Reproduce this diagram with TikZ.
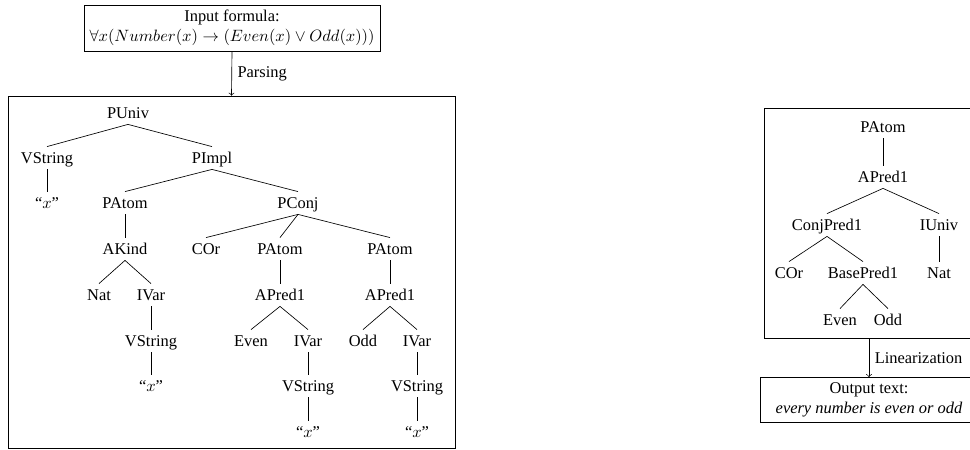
\documentclass[tikz,border=0pt]{standalone}
\usepackage[no-math]{fontspec}
\setmainfont{Liberation Serif}
\usetikzlibrary{fit}

\tikzset{
  tn/.style={text height=1.6ex, text depth=.25ex, inner sep=2.5pt},
  treebox/.style={draw, inner sep=0pt},
}

\begin{document}
\begin{tikzpicture}[x=0.609pt, y=-0.609pt]
\useasboundingbox (0,0) rectangle (970,450);
\clip (0,0) rectangle (970,450);

% Input formula
\node[draw, align=center] (input) at (232,28)
  {Input formula:\\ $\forall x(Number(x) \rightarrow (Even(x) \lor Odd(x)))$};

% Abstract syntax tree of the formula
\node[treebox, fit={(8,96) (455,448)}] (treeL) {};
\draw[->] (input.south) -- (treeL.north) node[midway, right] {Parsing};

\node[tn] (puniv) at (128,113) {PUniv};
\node[tn] (vs0) at (47,158) {VString};
\node[tn] (x0) at (47,203) {``$x$''};
\node[tn] (pimpl) at (212,158) {PImpl};
\node[tn] (patom1) at (125,203) {PAtom};
\node[tn] (akind) at (125,249) {AKind};
\node[tn] (nat) at (99,295) {Nat};
\node[tn] (ivar1) at (151,295) {IVar};
\node[tn] (vs1) at (151,341) {VString};
\node[tn] (x1) at (151,386) {``$x$''};
\node[tn] (pconj) at (298,203) {PConj};
\node[tn] (cor) at (206,249) {COr};
\node[tn] (patom2) at (280,249) {PAtom};
\node[tn] (apred2) at (280,295) {APred1};
\node[tn] (even) at (251,341) {Even};
\node[tn] (ivar2) at (308,341) {IVar};
\node[tn] (vs2) at (308,386) {VString};
\node[tn] (x2) at (308,432) {``$x$''};
\node[tn] (patom3) at (390,249) {PAtom};
\node[tn] (apred3) at (390,295) {APred1};
\node[tn] (odd) at (363,341) {Odd};
\node[tn] (ivar3) at (417,341) {IVar};
\node[tn] (vs3) at (417,386) {VString};
\node[tn] (x3) at (417,432) {``$x$''};

\draw (puniv.south) -- (vs0.north);
\draw (puniv.south) -- (pimpl.north);
\draw (vs0.south) -- (x0.north);
\draw (pimpl.south) -- (patom1.north);
\draw (pimpl.south) -- (pconj.north);
\draw (patom1.south) -- (akind.north);
\draw (akind.south) -- (nat.north);
\draw (akind.south) -- (ivar1.north);
\draw (ivar1.south) -- (vs1.north);
\draw (vs1.south) -- (x1.north);
\draw (pconj.south) -- (cor.north);
\draw (pconj.south) -- (patom2.north);
\draw (pconj.south) -- (patom3.north);
\draw (patom2.south) -- (apred2.north);
\draw (apred2.south) -- (even.north);
\draw (apred2.south) -- (ivar2.north);
\draw (ivar2.south) -- (vs2.north);
\draw (vs2.south) -- (x2.north);
\draw (patom3.south) -- (apred3.north);
\draw (apred3.south) -- (odd.north);
\draw (apred3.south) -- (ivar3.north);
\draw (ivar3.south) -- (vs3.north);
\draw (vs3.south) -- (x3.north);

% Abstract syntax tree of the text
\node[treebox, fit={(764,108) (975,338)}] (treeR) {};

\node[tn] (patomR) at (883,127) {PAtom};
\node[tn] (apredR) at (883,177) {APred1};
\node[tn] (conjR) at (827,225) {ConjPred1};
\node[tn] (iuniv) at (939,225) {IUniv};
\node[tn] (corR) at (789,273) {COr};
\node[tn] (baseR) at (863,273) {BasePred1};
\node[tn] (natR) at (939,273) {Nat};
\node[tn] (evenR) at (840,320) {Even};
\node[tn] (oddR) at (888,320) {Odd};

\draw (patomR.south) -- (apredR.north);
\draw (apredR.south) -- (conjR.north);
\draw (apredR.south) -- (iuniv.north);
\draw (conjR.south) -- (corR.north);
\draw (conjR.south) -- (baseR.north);
\draw (iuniv.south) -- (natR.north);
\draw (baseR.south) -- (evenR.north);
\draw (baseR.south) -- (oddR.north);

% Output text
\node[draw, align=center, minimum width=132pt] (output) at (869,400)
  {Output text:\\ \textit{every number is even or odd}};
\draw[->] (output.north |- treeR.south) -- (output.north)
  node[midway, right] {Linearization};

\end{tikzpicture}
\end{document}
